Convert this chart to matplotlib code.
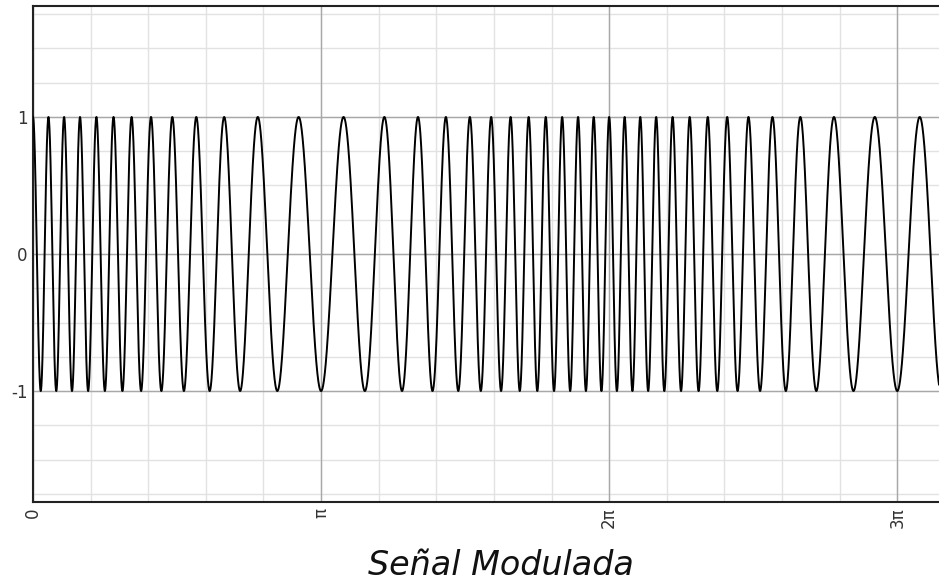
import matplotlib
matplotlib.use('Agg')
import matplotlib.pyplot as plt
import numpy as np

# parametros de la señal
portadora = 25.0      # frecuencia angular central
indice_mod = 12.3     # desviacion de frecuencia
t_max = 9.88
ticks_x = [0, np.pi, 2*np.pi, 3*np.pi]
etiquetas_x = ['0', 'π', '2π', '3π']
ticks_y = [-1, 0, 1]
etiquetas_y = ['-1', '0', '1']

t = np.linspace(0, t_max, 6000)
y = np.cos(portadora*t + indice_mod*np.sin(t))

fig = plt.figure(figsize=(9.39, 5.83), dpi=100)
ax = fig.add_axes([33/939, 81/583, 906/939, 496/583])

# rejilla menor y mayor
for xm in np.arange(0, t_max, np.pi/5):
    ax.axvline(xm, color='#e2e2e2', lw=1, zorder=0)
for ym in np.arange(-1.75, 1.8, 0.25):
    ax.axhline(ym, color='#e2e2e2', lw=1, zorder=0)
for xm in ticks_x:
    ax.axvline(xm, color='#a8a8a8', lw=1, zorder=1)
for ym in ticks_y:
    ax.axhline(ym, color='#a8a8a8', lw=1, zorder=1)

ax.plot(t, y, color='black', lw=1.4, zorder=3)

ax.set_xlim(0, t_max)
ax.set_ylim(-1.81, 1.81)
ax.set_xticks(ticks_x)
ax.set_xticklabels(etiquetas_x, rotation=90, fontsize=12, color='#333333',
                   family='DejaVu Sans')
ax.set_yticks(ticks_y)
ax.set_yticklabels(etiquetas_y, fontsize=12, color='#333333', family='DejaVu Sans')
ax.tick_params(length=0, pad=4)
for s in ['left', 'bottom', 'top']:
    ax.spines[s].set_color('#222222')
    ax.spines[s].set_linewidth(1.5)
ax.spines['right'].set_visible(False)

ax.set_xlabel('Señal Modulada', fontsize=24, style='italic', family='DejaVu Sans',
              color='#111111')
ax.xaxis.label.set_va('baseline')
ax.xaxis.set_label_coords(0.517, -0.147)

plt.savefig('out.png', dpi=100)
